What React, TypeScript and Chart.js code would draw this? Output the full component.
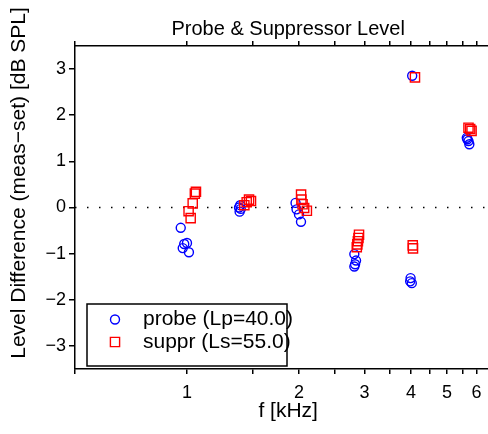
import React, { useEffect, useRef } from "react";
import { Chart, registerables } from "chart.js";

Chart.register(...registerables);

// ---- data ----
const probeFreqs = [
  0.962, 0.983, 1.0, 0.974, 1.012,
  1.39, 1.38, 1.395, 1.385,
  1.958, 1.97, 2.0, 2.025,
  2.817, 2.847, 2.83, 2.817,
  3.99, 4.02, 3.98, 4.03,
  5.65, 5.67, 5.71, 5.74,
];
const probeDiffs = [
  -0.44, -0.79, -0.77, -0.88, -0.97,
  0.05, 0.0, -0.03, -0.09,
  0.1, -0.04, -0.15, -0.31,
  -1.01, -1.15, -1.23, -1.28,
  -1.53, -1.64, -1.6, 2.855,
  1.51, 1.48, 1.44, 1.37,
];
const supprFreqs = [
  1.057, 1.05, 1.036, 1.01, 1.023,
  1.426, 1.447, 1.468, 1.486,
  2.026, 2.03, 2.045, 2.065, 2.1,
  2.9, 2.89, 2.88, 2.87, 2.86,
  4.044, 4.05, 4.1,
  5.71, 5.77, 5.82,
];
const supprDiffs = [
  0.34, 0.3, 0.09, -0.08, -0.23,
  0.05, 0.115, 0.17, 0.14,
  0.28, 0.17, 0.07, -0.01, -0.07,
  -0.59, -0.66, -0.73, -0.8, -0.86,
  -0.82, -0.885, 2.82,
  1.73, 1.7, 1.66,
];

const xTickValues = [0.5, 1, 1.5, 2, 2.5, 3, 3.5, 4, 4.5, 5, 5.5, 6, 6.5, 7];
const xTickLabels = ["", "1", "", "2", "", "3", "", "4", "", "5", "", "6", "", ""];
const yTickValues = [-3, -2, -1, 0, 1, 2, 3];
const yTickLabels = ["\u22123", "\u22122", "\u22121", "0", "1", "2", "3"];
const xLimits = [0.5, 7];
const yLimits = [-3.5, 3.5];
const zeroLevel = 0;

const titleText = "Probe & Suppressor Level";
const xTitleText = "f [kHz]";
const yTitleText = "Level Difference (meas\u2212set) [dB SPL]";
const probeLabel = "probe (Lp=40.0)";
const supprLabel = "suppr (Ls=55.0)";

const FONT = '"Liberation Sans", Arial, Helvetica, sans-serif';
const BLUE = "#0000ff";
const RED = "#ff0000";

const CANVAS_W = 520;
const CANVAS_H = 434;

const overlayPlugin = {
  id: "overlay",
  afterDraw(chart: any) {
    const { ctx, chartArea } = chart;
    const cx = (chartArea.left + chartArea.right) / 2;
    ctx.save();
    ctx.fillStyle = "#000";
    ctx.textAlign = "center";
    ctx.textBaseline = "alphabetic";
    ctx.font = `20px ${FONT}`;
    ctx.fillText(titleText, cx, 35);
    ctx.font = `21px ${FONT}`;
    ctx.fillText(xTitleText, cx, 417);
    ctx.save();
    ctx.translate(25, 183);
    ctx.rotate(-Math.PI / 2);
    ctx.fillText(yTitleText, 0, 0);
    ctx.restore();

    // legend box
    const bx = 87, by = 304, bw = 200, bh = 62;
    ctx.fillStyle = "#fff";
    ctx.fillRect(bx, by, bw, bh);
    ctx.strokeStyle = "#000";
    ctx.lineWidth = 1.5;
    ctx.strokeRect(bx, by, bw, bh);

    const ds = chart.data.datasets;
    const rows = [
      { d: ds[1], y: 319.5 },
      { d: ds[2], y: 342 },
    ];
    for (const r of rows) {
      ctx.strokeStyle = r.d.borderColor;
      ctx.lineWidth = r.d.borderWidth;
      ctx.beginPath();
      if (r.d.pointStyle === "circle") {
        ctx.arc(115, r.y, r.d.pointRadius, 0, Math.PI * 2);
      } else {
        const s = r.d.pointRadius * Math.SQRT1_2;
        ctx.rect(115 - s, r.y - s, 2 * s, 2 * s);
      }
      ctx.stroke();
      ctx.fillStyle = "#000";
      ctx.textAlign = "left";
      ctx.textBaseline = "middle";
      ctx.font = `21px ${FONT}`;
      ctx.fillText(r.d.label, 143, r.y);
    }
    ctx.restore();
  },
};

export default function App() {
  const ref = useRef<HTMLCanvasElement | null>(null);

  useEffect(() => {
    if (!ref.current) return;
    const axisGrid = {
      drawOnChartArea: false,
      drawTicks: true,
      tickLength: 5,
      color: "#000",
      lineWidth: 1.5,
    };
    const axisBorder = { display: true, color: "#000", width: 1.5 };
    const chart = new Chart(ref.current, {
      type: "scatter",
      data: {
        datasets: [
          {
            label: "zero",
            type: "line",
            data: xLimits.map((x) => ({ x, y: zeroLevel })),
            borderColor: "#000",
            borderWidth: 1.5,
            borderDash: [1.5, 10.5],
            pointRadius: 0,
            fill: false,
            order: 3,
          } as any,
          {
            label: probeLabel,
            data: probeFreqs.map((x, i) => ({ x, y: probeDiffs[i] })),
            pointStyle: "circle",
            pointRadius: 4.5,
            borderColor: BLUE,
            backgroundColor: "rgba(0,0,0,0)",
            borderWidth: 1.4,
            showLine: false,
            order: 2,
          },
          {
            label: supprLabel,
            data: supprFreqs.map((x, i) => ({ x, y: supprDiffs[i] })),
            pointStyle: "rect",
            pointRadius: 6.5,
            borderColor: RED,
            backgroundColor: "rgba(0,0,0,0)",
            borderWidth: 1.4,
            showLine: false,
            order: 1,
          },
        ],
      },
      options: {
        animation: false,
        responsive: false,
        devicePixelRatio: 1,
        layout: { padding: { left: 0, right: CANVAS_W - 501.4, top: 0, bottom: 0 } },
        plugins: {
          legend: { display: false },
          title: { display: false },
          tooltip: { enabled: false },
        },
        scales: {
          x: {
            type: "logarithmic",
            position: "bottom",
            min: xLimits[0],
            max: xLimits[1],
            afterBuildTicks: (s: any) => {
              s.ticks = xTickValues.map((value) => ({ value }));
            },
            afterFit: (s: any) => {
              s.height = 65;
            },
            ticks: {
              autoSkip: false,
              maxRotation: 0,
              padding: 8,
              color: "#000",
              font: { family: FONT, size: 18 },
              callback: (_v: any, i: number) => xTickLabels[i],
            },
            grid: axisGrid,
            border: axisBorder,
          },
          xTop: {
            type: "logarithmic",
            position: "top",
            min: xLimits[0],
            max: xLimits[1],
            afterBuildTicks: (s: any) => {
              s.ticks = xTickValues.map((value) => ({ value }));
            },
            afterFit: (s: any) => {
              s.height = 46;
            },
            ticks: {
              autoSkip: false,
              maxRotation: 0,
              padding: 0,
              font: { family: FONT, size: 1 },
              callback: () => "",
            },
            grid: axisGrid,
            border: axisBorder,
          },
          y: {
            type: "linear",
            position: "left",
            min: yLimits[0],
            max: yLimits[1],
            afterBuildTicks: (s: any) => {
              s.ticks = yTickValues.map((value) => ({ value }));
            },
            afterFit: (s: any) => {
              s.width = 75;
            },
            ticks: {
              padding: 3,
              color: "#000",
              font: { family: FONT, size: 18 },
              callback: (_v: any, i: number) => yTickLabels[i],
            },
            grid: { ...axisGrid, tickLength: 6 },
            border: axisBorder,
          },
        },
      },
      plugins: [overlayPlugin],
    } as any);
    return () => chart.destroy();
  }, []);

  return (
    <div
      style={{
        position: "absolute",
        left: 0,
        top: 0,
        width: 488,
        height: 434,
        overflow: "hidden",
        background: "#fff",
      }}
    >
      <canvas ref={ref} width={CANVAS_W} height={CANVAS_H} style={{ display: "block" }} />
    </div>
  );
}
